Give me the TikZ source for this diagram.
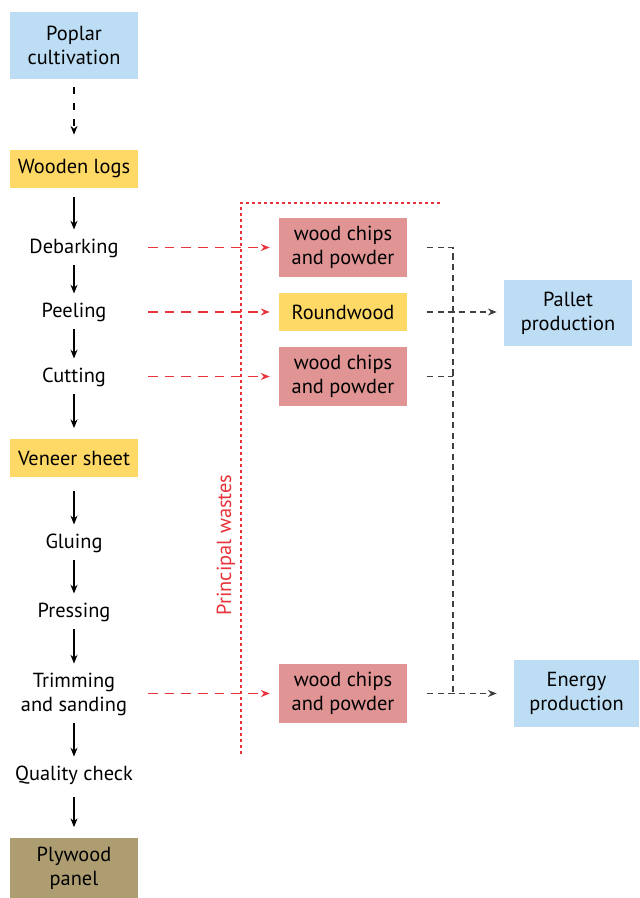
\documentclass[tikz,border=0pt]{standalone}
\usepackage{fontspec}
\setmainfont{PT Sans}
\usepackage{xcolor}
\usetikzlibrary{arrows.meta, positioning}

\definecolor{skyblue}{HTML}{BDDDF4}
\definecolor{logyellow}{HTML}{FFD966}
\definecolor{chipred}{HTML}{E09494}
\definecolor{plybrown}{HTML}{AD9D71}
\definecolor{wastered}{HTML}{E8333A}
\definecolor{mergegray}{HTML}{404040}

\begin{document}
\begin{tikzpicture}[x=0.02cm, y=-0.02cm,
  font=\fontsize{11.6}{13.6}\selectfont,
  box/.style={minimum width=2.56cm, minimum height=0.76cm, inner sep=2pt, align=center},
  tallbox/.style={box, minimum height=1.34cm},
  chipbox/.style={box, fill=chipred, minimum height=1.18cm},
  stage/.style={align=center, inner sep=1pt},
  arr/.style={-{Stealth[length=5pt, width=4pt]}, line width=0.6pt,
              shorten <=3pt, shorten >=4pt},
  wastearr/.style={-{Stealth[length=5pt, width=4pt]}, wastered, line width=0.8pt,
                   dash pattern=on 5.5pt off 4pt, shorten >=0.18cm},
  mergeline/.style={mergegray, line width=0.65pt, dash pattern=on 3.5pt off 2.5pt}
]
  \useasboundingbox (0,0) rectangle (639,898);

  % Main production line
  \node[tallbox, fill=skyblue] (poplar) at (74,45.5) {Poplar\\cultivation};
  \node[box, fill=logyellow] (logs) at (74,169) {Wooden logs};
  \node[stage] (debark) at (74,248) {Debarking};
  \node[stage] (peel) at (74,312) {Peeling};
  \node[stage] (cut) at (74,377) {Cutting};
  \node[box, fill=logyellow] (veneer) at (74,458) {Veneer sheet};
  \node[stage] (glue) at (74,543) {Gluing};
  \node[stage] (press) at (74,612) {Pressing};
  \node[stage] (trim) at (74,694) {Trimming\\and sanding};
  \node[stage] (quality) at (74,775) {Quality check};
  \node[box, fill=plybrown, minimum height=1.2cm] (plywood) at (74,868) {Plywood\\panel};

  \draw[arr, dash pattern=on 4pt off 5pt, shorten <=0.16cm, shorten >=0.3cm] (poplar) -- (logs);
  \draw[arr, shorten <=5pt] (logs) -- (debark);
  \draw[arr] (debark) -- (peel);
  \draw[arr] (peel) -- (cut);
  \draw[arr, shorten >=6pt] (cut) -- (veneer);
  \draw[arr, shorten <=8pt] (veneer) -- (glue);
  \draw[arr] (glue) -- (press);
  \draw[arr] (press) -- (trim);
  \draw[arr] (trim) -- (quality);
  \draw[arr, shorten <=6pt, shorten >=6pt] (quality) -- (plywood);

  % Principal wastes
  \draw[wastered, line width=0.6pt, dash pattern=on 1.7pt off 1.7pt]
    (440,203) -- (241,203) -- (241,755);
  \node[rotate=90, text=wastered] (wlabel) at (226,545) {Principal wastes};

  \node[chipbox] (chips1) at (343,247.5) {wood chips\\and powder};
  \node[box, fill=logyellow] (round) at (343,312) {Roundwood};
  \node[chipbox] (chips2) at (343,376.5) {wood chips\\and powder};
  \node[chipbox] (chips4) at (343,693.5) {wood chips\\and powder};

  \coordinate (wst) at (148,0);
  \draw[wastearr] (wst |- chips1) -- (chips1.west);
  \draw[wastearr] (wst |- round) -- (round.west);
  \draw[wastearr] (wst |- chips2) -- (chips2.west);
  \draw[wastearr] (wst |- chips4) -- (chips4.west);

  % Uses of the wastes
  \node[tallbox, fill=skyblue] (pallet) at (568,313) {Pallet\\production};
  \node[tallbox, fill=skyblue, minimum width=2.5cm] (energy) at (576.5,693.5) {Energy\\production};

  \coordinate (bus) at (453,0);
  \draw[mergeline, shorten <=0.4cm] (chips1.east) -- (chips1 -| bus) -- (chips4 -| bus);
  \draw[mergeline, shorten <=0.4cm] (chips2.east) -- (chips2 -| bus);
  \draw[mergeline, -{Stealth[length=5pt, width=4pt, fill=black]}, shorten <=0.4cm, shorten >=0.14cm]
    (round.east) -- (round -| pallet.west);
  \draw[mergeline, -{Stealth[length=5pt, width=4pt, fill=black]}, shorten <=0.4cm, shorten >=0.34cm]
    (chips4.east) -- (energy.west);
\end{tikzpicture}
\end{document}
